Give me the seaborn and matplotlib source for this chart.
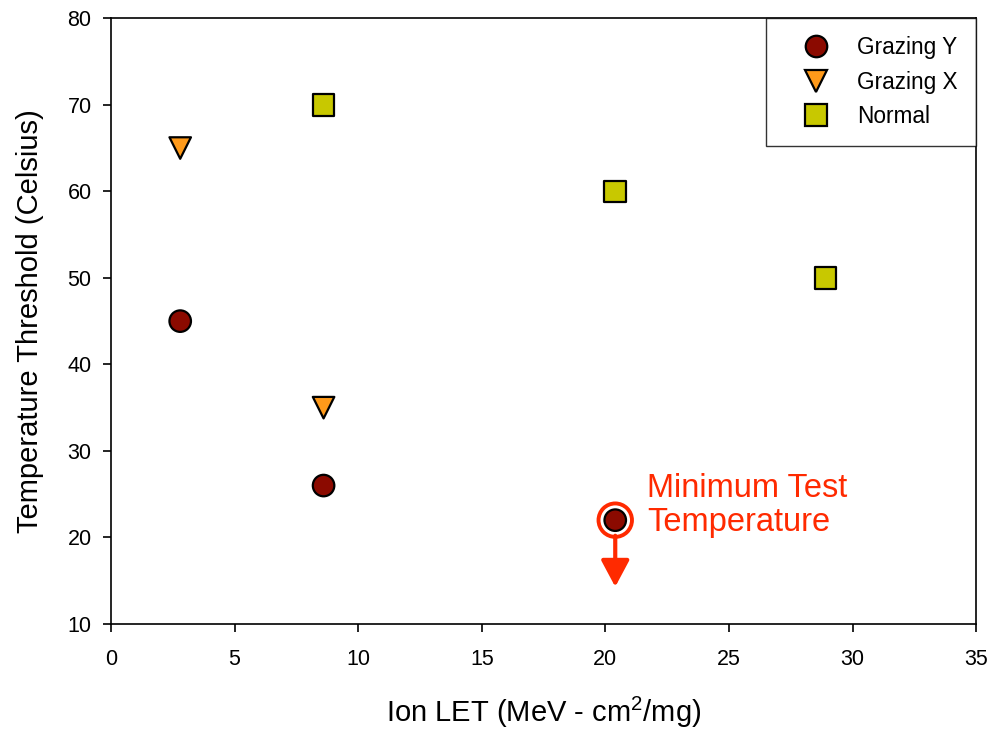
import pandas as pd
import matplotlib
matplotlib.use("Agg")
import matplotlib.pyplot as plt
import seaborn as sns

# Values
series_names = ["Grazing Y", "Grazing X", "Normal"]
grazing_y_let = [2.8, 8.6, 20.4]
grazing_y_temp = [45, 26, 22]
grazing_x_let = [2.8, 8.6]
grazing_x_temp = [65, 35]
normal_let = [8.6, 20.4, 28.9]
normal_temp = [70, 60, 50]

x_ticks = [0, 5, 10, 15, 20, 25, 30, 35]
y_ticks = [10, 20, 30, 40, 50, 60, 70, 80]

# Minimum test temperature point (arrow points downwards from it)
min_test_let = 20.4
min_test_temp = 22

data = pd.DataFrame({
    "let": grazing_y_let + grazing_x_let + normal_let,
    "temp": grazing_y_temp + grazing_x_temp + normal_temp,
    "series": (["Grazing Y"] * len(grazing_y_let)
               + ["Grazing X"] * len(grazing_x_let)
               + ["Normal"] * len(normal_let)),
})

sns.set_theme(style = "white")
plt.rcParams["font.family"] = ["Liberation Sans", "DejaVu Sans"]
plt.rcParams["mathtext.fontset"] = "custom"
plt.rcParams["mathtext.rm"] = "Liberation Sans"
plt.rcParams["mathtext.it"] = "Liberation Sans:italic"
plt.rcParams["text.color"] = "black"
plt.rcParams["axes.labelcolor"] = "black"
plt.rcParams["xtick.color"] = "black"
plt.rcParams["ytick.color"] = "black"

fig = plt.figure(figsize = (9.91, 7.29), dpi = 100)
ax = fig.add_axes([0.112, 0.144, 0.873, 0.831])

palette = {"Grazing Y": "#8b0a00", "Grazing X": "#ff9a1a", "Normal": "#c8c800"}
markers = {"Grazing Y": "o", "Grazing X": "v", "Normal": "s"}

sns.scatterplot(
    data = data,
    x = "let",
    y = "temp",
    hue = "series",
    style = "series",
    hue_order = series_names,
    style_order = series_names,
    palette = palette,
    markers = markers,
    s = 240,
    edgecolor = "black",
    linewidth = 1.6,
    ax = ax,
    zorder = 3,
)

# Ring + arrow marking the minimum test temperature
red = "#ff2a00"
ax.scatter([min_test_let], [min_test_temp], s = 580, facecolors = "none",
           edgecolors = red, linewidths = 2.8, zorder = 4)
ax.annotate(
    "",
    xy = (min_test_let, 14.3),
    xytext = (min_test_let, 20.2),
    arrowprops = dict(arrowstyle = "-|>,head_length=1.35,head_width=0.72",
                      color = red, lw = 3, shrinkA = 0, shrinkB = 0),
    zorder = 4,
)
ax.text(21.7, 23.7, "Minimum Test\nTemperature", color = red,
        fontsize = 23.5, ha = "left", va = "center", linespacing = 1.15)

ax.set_xlim(0, 35)
ax.set_ylim(10, 80)
ax.set_xticks(x_ticks)
ax.set_yticks(y_ticks)
ax.tick_params(axis = "both", direction = "out", length = 6, width = 1.2,
               labelsize = 15.5, color = "black", bottom = True, left = True)
ax.tick_params(axis = "x", pad = 12)
ax.tick_params(axis = "y", pad = 8)
for spine in ax.spines.values():
    spine.set_color("black")
    spine.set_linewidth(1.2)

ax.set_xlabel("Ion LET (MeV - cm$^{\\mathrm{2}}$/mg)", fontsize = 21, labelpad = 18)
ax.set_ylabel("Temperature Threshold (Celsius)", fontsize = 21, labelpad = 17)

handles, labels = ax.get_legend_handles_labels()
leg = ax.legend(
    handles, labels,
    loc = "upper right",
    borderaxespad = 0,
    prop = {"size": 16.3},
    frameon = True,
    fancybox = False,
    edgecolor = "black",
    borderpad = 0.8,
    handlelength = 2.8,
    handletextpad = 0.45,
    labelspacing = 0.5,
)
leg.get_frame().set_linewidth(1.0)

plt.savefig("out.png", dpi = 100)
plt.close()
